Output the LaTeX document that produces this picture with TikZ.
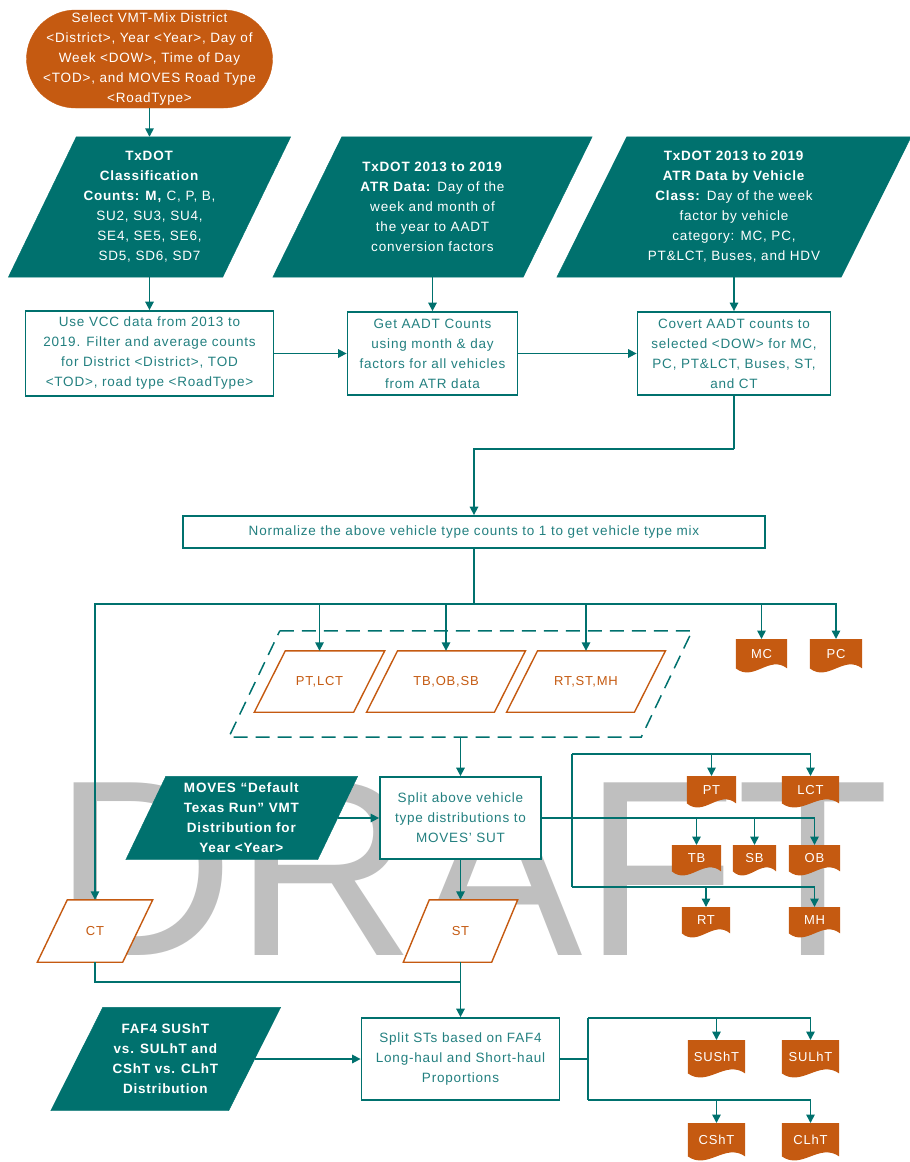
\documentclass[tikz,border=0pt]{standalone}
\usepackage{fontspec}
\setmainfont{Liberation Sans}[LetterSpace=6]
\newfontfamily\wmfont{Liberation Sans}
\usetikzlibrary{arrows.meta,calc}
\definecolor{tealC}{RGB}{0,113,110}
\definecolor{tealT}{RGB}{35,128,128}
\definecolor{orangeC}{RGB}{197,90,17}
\definecolor{wmgray}{RGB}{191,191,191}
\pgfdeclarelayer{wm}\pgfdeclarelayer{bg}\pgfsetlayers{wm,bg,main}
\newcommand\parafill[3]{\begin{pgfonlayer}{bg}\path[#3] ($(#1.north west)+(#2,0)$) -- ($(#1.north east)+(#2,0)$) -- ($(#1.south east)-(#2,0)$) -- ($(#1.south west)-(#2,0)$) -- cycle;\end{pgfonlayer}}
\newcommand\docfill[1]{\begin{pgfonlayer}{bg}\fill[orangeC] (#1.south west) -- (#1.north west) -- (#1.north east) -- (#1.south east) .. controls ($(#1.south east)!0.35!(#1.south west)+(0,-14)$) and ($(#1.south east)!0.65!(#1.south west)+(0,14)$) .. (#1.south west) -- cycle;\end{pgfonlayer}}
\tikzset{
 base/.style={inner sep=0pt, align=center, font=\fontsize{13.5}{20}\selectfont},
 oval/.style={base, fill=orangeC, draw=orangeC, rounded corners=49pt, text=white},
 tpara/.style={base, text=white},
 opara/.style={base, text=orangeC, font=\fontsize{13}{16}\selectfont},
 wbox/.style={base, draw=tealC, line width=1.8pt, fill=white, text=tealT},
 docbox/.style={base, anchor=north, text=white, font=\fontsize{13}{16}\selectfont},
 conn/.style={draw=tealC, line width=1.6pt},
 arr/.style={conn, -{Triangle[length=8.5pt,width=8.5pt]}},
 tealpara/.style={fill=tealC, draw=tealC},
 orpara/.style={fill=white, draw=orangeC, line width=1.4pt},
}
\begin{document}
\begin{tikzpicture}[x=1pt,y=-1pt]
\useasboundingbox (0,0) rectangle (910,1162);
\begin{pgfonlayer}{wm}
\node[anchor=base west, inner sep=0pt, text=wmgray, font=\wmfont\fontsize{251}{251}\selectfont] (wm) at (53,955) {DRAFT};
\end{pgfonlayer}

% top row
\node[oval, minimum width=246, minimum height=98] (start) at (149.5,59) {Select VMT-Mix District\\<District>, Year <Year>, Day of\\Week <DOW>, Time of Day\\<TOD>, and MOVES Road Type\\<RoadType>};

\node[tpara, minimum width=214, minimum height=140] (p1) at (149.5,207) {\textbf{TxDOT}\\\textbf{Classification}\\\textbf{Counts: M,} C, P, B,\\SU2, SU3, SU4,\\SE4, SE5, SE6,\\SD5, SD6, SD7};
\parafill{p1}{34}{tealpara}
\node[tpara, minimum width=250, minimum height=140] (p2) at (432.5,207) {\textbf{TxDOT 2013 to 2019}\\\textbf{ATR Data:} Day of the\\week and month of\\the year to AADT\\conversion factors};
\parafill{p2}{34.5}{tealpara}
\node[tpara, minimum width=284, minimum height=140] (p3) at (734,207) {\textbf{TxDOT 2013 to 2019}\\\textbf{ATR Data by Vehicle}\\\textbf{Class:} Day of the week\\factor by vehicle\\category: MC, PC,\\PT\&LCT, Buses, and HDV};
\parafill{p3}{35}{tealpara}

\node[wbox, minimum width=248, minimum height=85] (b1) at (149.5,353.5) {Use VCC data from 2013 to\\2019. Filter and average counts\\for District <District>, TOD\\<TOD>, road type <RoadType>};
\node[wbox, minimum width=170, minimum height=83] (b2) at (432.5,353.5) {Get AADT Counts\\using month \& day\\factors for all vehicles\\from ATR data};
\node[wbox, minimum width=193, minimum height=83] (b3) at (734,353.5) {Covert AADT counts to\\selected <DOW> for MC,\\PC, PT\&LCT, Buses, ST,\\and CT};

\node[wbox, minimum width=582, minimum height=32] (norm) at (474,532) {Normalize the above vehicle type counts to 1 to get vehicle type mix};
\coordinate (j1) at (734,449);
\coordinate (bus) at (474,604);

% dashed group
\node[minimum width=412, minimum height=106, inner sep=0pt] (dp) at (460.5,684) {};
\parafill{dp}{25.5}{draw=tealC, line width=1.5pt, dash pattern=on 14pt off 8pt}
\node[opara, minimum width=99, minimum height=61] (i1) at (319.5,681.5) {PT,LCT};
\parafill{i1}{15.5}{orpara}
\node[opara, minimum width=127.5, minimum height=61] (i2) at (446,681.5) {TB,OB,SB};
\parafill{i2}{15.5}{orpara}
\node[opara, minimum width=127.5, minimum height=61] (i3) at (586,681.5) {RT,ST,MH};
\parafill{i3}{15.5}{orpara}

\node[docbox, minimum width=51, minimum height=29] (mc) at (761.5,639) {MC};
\docfill{mc}
\node[docbox, minimum width=52, minimum height=29] (pc) at (836,639) {PC};
\docfill{pc}

% middle
\node[wbox, minimum width=161, minimum height=82] (s1) at (460.5,818) {Split above vehicle\\type distributions to\\MOVES’ SUT};
\node[tpara, minimum width=191.5, minimum height=83] (moves) at (241.75,818) {\textbf{MOVES “Default}\\\textbf{Texas Run” VMT}\\\textbf{Distribution for}\\\textbf{Year <Year>}};
\parafill{moves}{20}{tealpara}

\node[opara, minimum width=85, minimum height=62] (ct) at (95,931) {CT};
\parafill{ct}{15}{orpara}
\node[opara, minimum width=88, minimum height=62] (st) at (460.5,931) {ST};
\parafill{st}{13}{orpara}

\coordinate (f1) at (572,754);
\coordinate (f2) at (572,887);
\node[docbox, minimum width=49, minimum height=27] (pt) at (711.5,776) {PT};
\docfill{pt}
\node[docbox, minimum width=57, minimum height=27] (lct) at (810.5,776) {LCT};
\docfill{lct}
\node[docbox, minimum width=49, minimum height=26] (tb) at (696.5,845) {TB};
\docfill{tb}
\node[docbox, minimum width=43, minimum height=26] (sb) at (754.5,845) {SB};
\docfill{sb}
\node[docbox, minimum width=51, minimum height=26] (ob) at (814.5,845) {OB};
\docfill{ob}
\node[docbox, minimum width=48, minimum height=26] (rt) at (706,907) {RT};
\docfill{rt}
\node[docbox, minimum width=51, minimum height=26] (mh) at (814.5,907) {MH};
\docfill{mh}

% bottom
\coordinate (j3) at (460.5,982);
\node[wbox, minimum width=198, minimum height=82] (s2) at (460.5,1059) {Split STs based on FAF4\\Long-haul and Short-haul\\Proportions};
\node[tpara, minimum width=177.5, minimum height=103] (faf) at (165.75,1059) {\textbf{FAF4 SUShT}\\\textbf{vs. SULhT and}\\\textbf{CShT vs. CLhT}\\\textbf{Distribution}};
\parafill{faf}{26}{tealpara}

\coordinate (g1) at (588,1018);
\coordinate (g2) at (588,1100);
\node[docbox, minimum width=57, minimum height=33] (susht) at (716.5,1040) {SUShT};
\docfill{susht}
\node[docbox, minimum width=57, minimum height=33] (sulht) at (810.5,1040) {SULhT};
\docfill{sulht}
\node[docbox, minimum width=57, minimum height=33] (csht) at (716.5,1123) {CShT};
\docfill{csht}
\node[docbox, minimum width=57, minimum height=33] (clht) at (810.5,1123) {CLhT};
\docfill{clht}

% connectors
\draw[arr] (start.south) -- (p1.north);
\draw[arr] (p1.south) -- (b1.north);
\draw[arr] (p2.south) -- (b2.north);
\draw[arr] (p3.south) -- (b3.north);
\draw[arr] (b1.east) -- (b2.west);
\draw[arr] (b2.east) -- (b3.west);
\draw[conn] (b3.south) -- (j1);
\draw[arr] (j1) -| (norm.north);
\draw[conn] (norm.south) -- (bus);
\draw[arr] (bus) -| (ct.north);
\draw[arr] (bus) -| (i1.north);
\draw[arr] (bus) -| (i2.north);
\draw[arr] (bus) -| (i3.north);
\draw[arr] (bus) -| (mc.north);
\draw[arr] (bus) -| (pc.north);
\draw[arr] (dp.south) -- (s1.north);
\draw[arr] (moves.east) -- (s1.west);
\draw[arr] (s1.south) -- (st.north);
\draw[arr] (s1.east) -| (tb.north);
\draw[arr] (s1.east) -| (sb.north);
\draw[arr] (s1.east) -| (ob.north);
\draw[conn] (f1) -- (f2);
\draw[arr] (f1) -| (pt.north);
\draw[arr] (f1) -| (lct.north);
\draw[arr] (f2) -| (rt.north);
\draw[arr] (f2) -| (mh.north);
\draw[conn] (ct.south) |- (j3);
\draw[arr] (st.south) -- (s2.north);
\draw[arr] (faf.east) -- (s2.west);
\draw[conn] (s2.east) -- (s2.east -| g1);
\draw[conn] (g1) -- (g2);
\draw[arr] (g1) -| (susht.north);
\draw[arr] (g1) -| (sulht.north);
\draw[arr] (g2) -| (csht.north);
\draw[arr] (g2) -| (clht.north);
\end{tikzpicture}
\end{document}
